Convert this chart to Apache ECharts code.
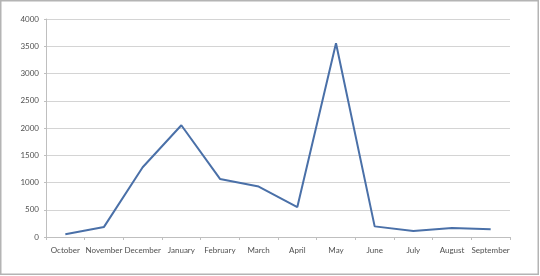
<!DOCTYPE html>
<html><head><meta charset="utf-8">
<script src="https://cdn.jsdelivr.net/npm/echarts@6/dist/echarts.min.js"></script>
<style>html,body{margin:0;padding:0;background:#fff}#c{width:540px;height:276px}</style>
</head><body><div id="c"></div>
<script>
const categories = ['October','November','December','January','February','March','April','May','June','July','August','September'];
const values = [50, 185, 1280, 2050, 1065, 925, 550, 3555, 195, 110, 165, 140];
const yMin = 0, yMax = 4000, yStep = 500;

const chart = echarts.init(document.getElementById('c'), null, {renderer:'canvas'});
const font = 'Lato, "Liberation Sans", sans-serif';
chart.setOption({
  animation:false,
  backgroundColor:'#fff',
  graphic:[{type:'rect', shape:{x:0.75,y:0.75,width:537.5,height:273.5}, style:{fill:'none', stroke:'#b4b4b4', lineWidth:1.5}, silent:true}],
  grid:{left:46, right:30, top:19, bottom:39},
  xAxis:{type:'category', data:categories, boundaryGap:true,
    axisLine:{lineStyle:{color:'#bfbfbf', width:1}},
    axisTick:{show:true, length:3, lineStyle:{color:'#bfbfbf'}},
    axisLabel:{color:'#505050', fontSize:8, fontFamily:font, margin:9, interval:0}},
  yAxis:{type:'value', min:yMin, max:yMax, interval:yStep,
    axisLine:{show:true, lineStyle:{color:'#bfbfbf'}},
    axisTick:{show:true, length:2, lineStyle:{color:'#bfbfbf'}},
    splitLine:{lineStyle:{color:'#d4d4d4', width:1}},
    axisLabel:{color:'#505050', fontSize:8, fontFamily:font, margin:7, formatter:v=>String(v)}},
  series:[{type:'line', data:values, symbol:'none', lineStyle:{color:'#4a70a8', width:2}, itemStyle:{color:'#4a70a8'}}]
});
</script></body></html>
